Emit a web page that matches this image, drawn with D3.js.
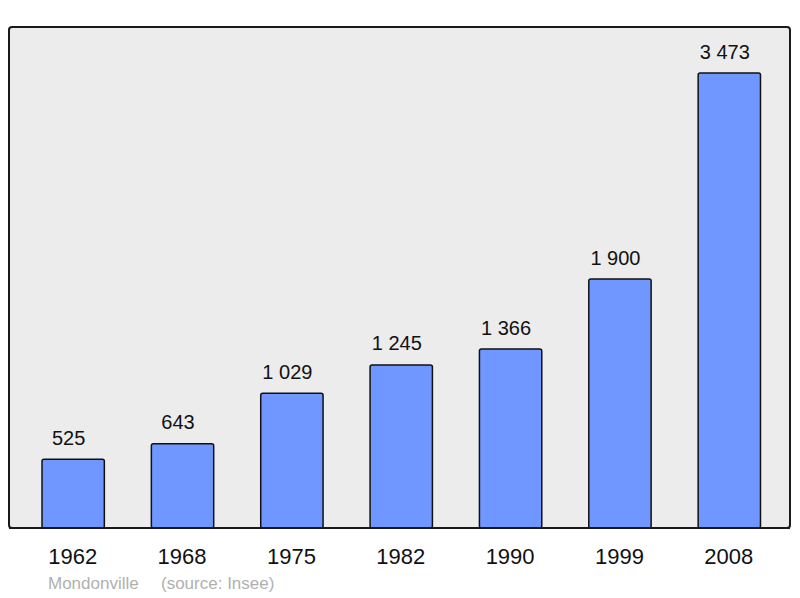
<!DOCTYPE html>
<html><head><meta charset="utf-8">
<script src="https://cdn.jsdelivr.net/npm/d3@7"></script>
<style>body{margin:0;background:#fff;}svg{display:block;font-family:"Liberation Sans",Arial,sans-serif;}</style>
</head><body>
<svg id="chart" width="800" height="598"></svg>
<script>
const years = ["1962","1968","1975","1982","1990","1999","2008"];
const population = [525, 643, 1029, 1245, 1366, 1900, 3473];
const labels = ["525","643","1 029","1 245","1 366","1 900","3 473"];
const townName = "Mondonville";
const sourceText = "(source: Insee)";

const svg = d3.select("#chart");
const panel = {x0: 9, y0: 27, x1: 790, y1: 528};

svg.append("rect").attr("x", panel.x0).attr("y", panel.y0)
  .attr("width", panel.x1 - panel.x0).attr("height", panel.y1 - panel.y0)
  .attr("rx", 3).attr("fill", "#ececec").attr("stroke", "#1a1a1a").attr("stroke-width", 2);

const x = d3.scaleBand().domain(years).range([18.5, 784]).paddingInner(0.43).paddingOuter(0.215);
const y = d3.scaleLinear().domain([0, 3473 * 501 / 455]).range([panel.y1, panel.y0]);

svg.selectAll("rect.bar").data(population).enter().append("rect")
  .attr("class", "bar")
  .attr("x", (d, i) => x(years[i]))
  .attr("y", d => y(d))
  .attr("width", x.bandwidth())
  .attr("height", d => y(0) - y(d))
  .attr("rx", 2)
  .attr("fill", "#7097ff").attr("stroke", "#111").attr("stroke-width", 1.5);

svg.selectAll("text.val").data(population).enter().append("text")
  .attr("class", "val")
  .attr("x", (d, i) => x(years[i]) + x.bandwidth() / 2 - 4.5)
  .attr("y", d => y(d) - 14.5)
  .attr("text-anchor", "middle").attr("font-size", 20).attr("fill", "#111")
  .text((d, i) => labels[i]);

svg.append("line").attr("x1", panel.x0).attr("x2", panel.x1).attr("y1", panel.y1).attr("y2", panel.y1)
  .attr("stroke", "#1a1a1a").attr("stroke-width", 2);

const xAxis = d3.axisBottom(x).tickSize(0).tickPadding(0);
const ax = svg.append("g").attr("transform", `translate(0,${panel.y1})`).call(xAxis);
ax.select(".domain").remove();
ax.selectAll("text").attr("font-size", 22).attr("fill", "#111")
  .attr("font-family", "Liberation Sans, Arial, sans-serif").attr("dy", null).attr("y", 36)
  .attr("dx", "-0.5px");

svg.append("text").attr("x", 48).attr("y", 589).attr("font-size", 17).attr("fill", "#b0b0b0")
  .text(townName);
svg.append("text").attr("x", 161).attr("y", 589).attr("font-size", 17).attr("fill", "#b0b0b0")
  .text(sourceText);
</script>
</body></html>
